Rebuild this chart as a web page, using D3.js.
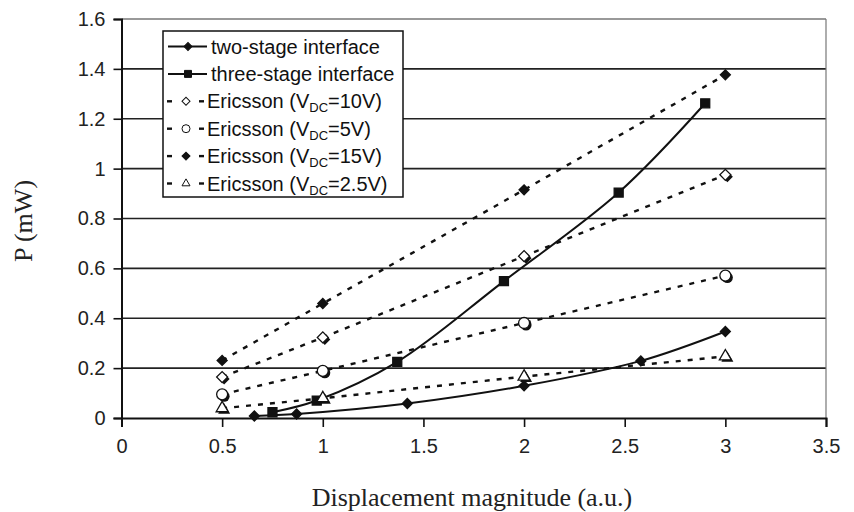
<!DOCTYPE html>
<html>
<head>
  <script src="https://cdn.jsdelivr.net/npm/d3@7"></script>
  <style>
    body { margin: 0; background: #fff; }
  </style>
</head>
<body>
  <svg width="854" height="512" id="mainsvg"></svg>
  <script>
    // data
    const xTicks = [0, 0.5, 1, 1.5, 2, 2.5, 3, 3.5];
    const yTicks = [0, 0.2, 0.4, 0.6, 0.8, 1, 1.2, 1.4, 1.6];

    const twoStageX = [0.66, 0.87, 1.42, 2.0, 2.58, 3.0];
    const twoStageY = [0.008, 0.016, 0.058, 0.129, 0.229, 0.347];
    const threeStageX = [0.75, 0.97, 1.37, 1.9, 2.47, 2.9];
    const threeStageY = [0.023, 0.07, 0.225, 0.549, 0.904, 1.262];

    const ericssonX = [0.5, 1, 2, 3];
    const ericsson10 = [0.164, 0.323, 0.649, 0.975];
    const ericsson5 = [0.095, 0.189, 0.381, 0.571];
    const ericsson15 = [0.231, 0.459, 0.915, 1.376];
    const ericsson25 = [0.039, 0.079, 0.166, 0.247];

    const svg = d3.select('#mainsvg');
    const plotL = 121.5, plotR = 826, plotT = 19, plotB = 418;

    const xScale = d3.scaleLinear().domain([0, 3.5]).range([plotL, plotR]);
    const yScale = d3.scaleLinear().domain([0, 1.6]).range([plotB, plotT]);

    const g = svg.append('g');

    // gridlines
    g.selectAll('.grid').data(yTicks.filter(d => d > 0)).enter().append('line')
      .attr('x1', plotL).attr('x2', plotR)
      .attr('y1', d => yScale(d)).attr('y2', d => yScale(d))
      .attr('stroke', d => d === 1.6 ? '#777' : '#222')
      .attr('stroke-width', 1.7);
    // right border
    g.append('line').attr('x1', plotR).attr('x2', plotR).attr('y1', plotT).attr('y2', plotB)
      .attr('stroke', '#777').attr('stroke-width', 1.2);

    // axes
    const fmt = d => String(+d.toFixed(1));
    const yAxis = d3.axisLeft(yScale).tickValues(yTicks).tickSize(8).tickPadding(8).tickFormat(fmt);
    const xAxis = d3.axisBottom(xScale).tickValues(xTicks).tickSize(9).tickPadding(12).tickFormat(fmt);

    const yg = g.append('g').attr('transform', `translate(${plotL},0)`).call(yAxis);
    const xg = g.append('g').attr('transform', `translate(0,${plotB})`).call(xAxis);
    [yg, xg].forEach(a => {
      a.selectAll('path.domain').attr('stroke', '#111').attr('stroke-width', 2);
      a.selectAll('.tick line').attr('stroke', '#111').attr('stroke-width', 1.6);
      a.selectAll('text').attr('font-family', 'Liberation Sans, Arial, sans-serif')
        .attr('font-size', 20).attr('fill', '#222');
    });

    // axis titles
    svg.append('text')
      .attr('x', 472).attr('y', 506)
      .attr('text-anchor', 'middle')
      .attr('font-family', 'Liberation Serif, Times New Roman, serif')
      .attr('font-size', 26).attr('fill', '#222')
      .text('Displacement magnitude (a.u.)');
    svg.append('text')
      .attr('transform', 'translate(32,221) rotate(-90)')
      .attr('text-anchor', 'middle')
      .attr('font-family', 'Liberation Serif, Times New Roman, serif')
      .attr('font-size', 26).attr('fill', '#222')
      .text('P (mW)');

    const markerPath = {
      diamond: s => d3.symbol().type(d3.symbolSquare).size(s * s / 2)(),
      square: s => d3.symbol().type(d3.symbolSquare).size(s * s)(),
      circle: s => d3.symbol().type(d3.symbolCircle).size(Math.PI * s * s / 4)(),
      triangle: s => d3.symbol().type(d3.symbolTriangle).size(s * s * 0.433)()
    };
    const markerRot = { diamond: 45, square: 0, circle: 0, triangle: 0 };

    const series = [
      { name: 'two-stage interface', xs: twoStageX, ys: twoStageY, solid: true, marker: 'diamond', fill: '#111', size: 10 },
      { name: 'three-stage interface', xs: threeStageX, ys: threeStageY, solid: true, marker: 'square', fill: '#111', size: 9 },
      { name: 'Ericsson (V', sub: 'DC', tail: '=10V)', xs: ericssonX, ys: ericsson10, solid: false, marker: 'diamond', fill: '#fff', size: 11 },
      { name: 'Ericsson (V', sub: 'DC', tail: '=5V)', xs: ericssonX, ys: ericsson5, solid: false, marker: 'circle', fill: '#fff', size: 11 },
      { name: 'Ericsson (V', sub: 'DC', tail: '=15V)', xs: ericssonX, ys: ericsson15, solid: false, marker: 'diamond', fill: '#111', size: 10 },
      { name: 'Ericsson (V', sub: 'DC', tail: '=2.5V)', xs: ericssonX, ys: ericsson25, solid: false, marker: 'triangle', fill: '#fff', size: 12 }
    ];

    const smooth = d3.line().x(d => xScale(d[0])).y(d => yScale(d[1])).curve(d3.curveCatmullRom.alpha(0.5));
    const straight = d3.line().x(d => xScale(d[0])).y(d => yScale(d[1]));

    series.forEach(s => {
      const pts = s.xs.map((x, i) => [x, s.ys[i]]);
      g.append('path')
        .attr('d', s.solid ? smooth(pts) : straight(pts))
        .attr('fill', 'none').attr('stroke', '#111')
        .attr('stroke-width', s.solid ? 2 : 2.4)
        .attr('stroke-dasharray', s.solid ? null : '5,7');
    });

    series.forEach(s => {
      const pts = s.xs.map((x, i) => [x, s.ys[i]]);
      const mg = g.append('g');
      if (s.fill === '#fff') {
        // dark shadow behind open markers
        mg.selectAll('.shadow').data(pts).enter().append('path')
          .attr('d', markerPath[s.marker](s.size))
          .attr('transform', d => `translate(${xScale(d[0]) + 2},${yScale(d[1]) + 2}) rotate(${markerRot[s.marker]})`)
          .attr('fill', '#111');
      }
      mg.selectAll('.mk').data(pts).enter().append('path')
        .attr('d', markerPath[s.marker](s.size))
        .attr('transform', d => `translate(${xScale(d[0])},${yScale(d[1])}) rotate(${markerRot[s.marker]})`)
        .attr('fill', s.fill).attr('stroke', '#111').attr('stroke-width', 1.3);
    });

    // legend
    const lg = svg.append('g');
    lg.append('rect').attr('x', 163).attr('y', 31).attr('width', 240).attr('height', 166)
      .attr('fill', '#fff').attr('stroke', '#111').attr('stroke-width', 1.5);
    series.forEach((s, i) => {
      const cy = 46.5 + i * 27.4;
      if (s.solid) {
        lg.append('line').attr('x1', 168).attr('x2', 207).attr('y1', cy).attr('y2', cy)
          .attr('stroke', '#111').attr('stroke-width', 2);
      } else {
        [[167, 172], [199, 204]].forEach(([a, b]) => {
          lg.append('line').attr('x1', a).attr('x2', b).attr('y1', cy).attr('y2', cy)
            .attr('stroke', '#111').attr('stroke-width', 2.4);
        });
      }
      const mx = s.solid ? 188 : 186;
      lg.append('path')
        .attr('d', markerPath[s.marker](s.solid ? s.size - 2 : 8))
        .attr('transform', `translate(${mx},${cy}) rotate(${markerRot[s.marker]})`)
        .attr('fill', s.fill).attr('stroke', '#111').attr('stroke-width', 1);
      const t = lg.append('text')
        .attr('x', s.solid ? 211 : 207).attr('y', cy + 7)
        .attr('font-family', 'Liberation Sans, Arial, sans-serif')
        .attr('font-size', 20).attr('fill', '#111');
      t.append('tspan').text(s.name);
      if (s.sub) {
        t.append('tspan').attr('font-size', 13).attr('dy', 4).text(s.sub);
        t.append('tspan').attr('dy', -4).text(s.tail);
      }
    });
  </script>
</body>
</html>
